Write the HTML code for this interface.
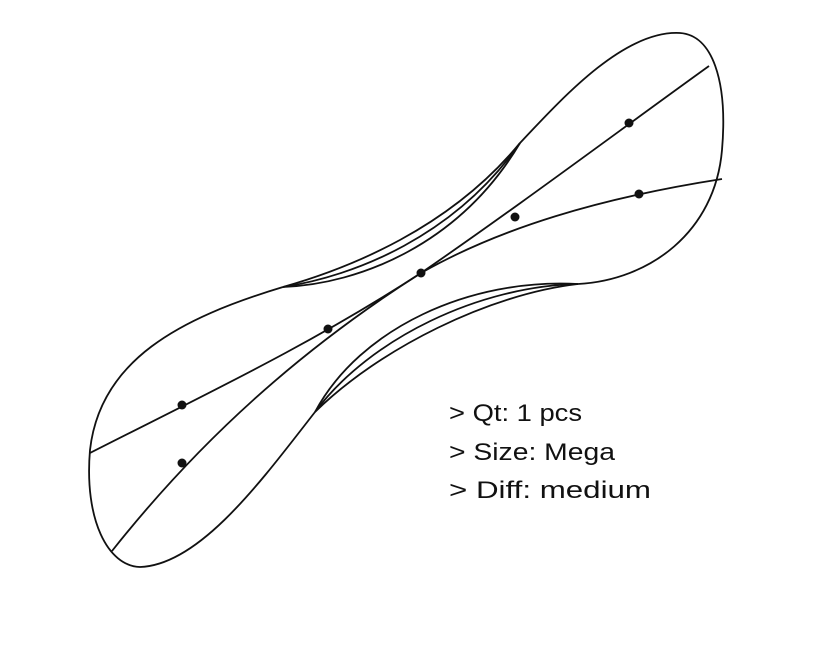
<!DOCTYPE html>
<html><head><style>
html,body{margin:0;padding:0;background:#fff;}
svg{display:block;}
text{font-family:"Liberation Sans",sans-serif;font-size:24px;fill:#111;}
</style></head><body>
<svg width="838" height="654" viewBox="0 0 838 654" xmlns="http://www.w3.org/2000/svg">
<g fill="none" stroke="#111" stroke-width="1.8">
<path d="M283,287 C180,318 100,360 90,450 C84,520 108,566 140,567 C200,565 262,480 315,412"/>
<path d="M315,412 C360,328 470,278 578,284"/>
<path d="M315,412 C370,338 480,286 578,284"/>
<path d="M315,412 C380,348 490,294 578,284"/>
<path d="M578,284 C650,280 715,232 722,150 C728,80 712,35 680,33 C625,30 565,95 520,143"/>
<path d="M283,287 C350,268 450,228 520,143"/>
<path d="M283,287 C355,276 455,236 520,143"/>
<path d="M283,287 C360,284 460,244 520,143"/>
<path d="M90,453 C210,392 310,345 421,273 C520,205 620,130 709,66"/>
<path d="M112,551 C200,440 300,350 421,273 C500,228 600,198 722,179"/>
</g>
<g fill="#111">
<circle cx="182" cy="405" r="4.5"/>
<circle cx="182" cy="463" r="4.5"/>
<circle cx="328" cy="329" r="4.5"/>
<circle cx="421" cy="273" r="4.5"/>
<circle cx="515" cy="217" r="4.5"/>
<circle cx="629" cy="123" r="4.5"/>
<circle cx="639" cy="194" r="4.5"/>
</g>
<text x="449" y="421" textLength="133" lengthAdjust="spacingAndGlyphs">&gt; Qt: 1 pcs</text>
<text x="449" y="460" textLength="166" lengthAdjust="spacingAndGlyphs">&gt; Size: Mega</text>
<text x="449" y="498" textLength="202" lengthAdjust="spacingAndGlyphs">&gt; Diff: medium</text>
</svg>
</body></html>
